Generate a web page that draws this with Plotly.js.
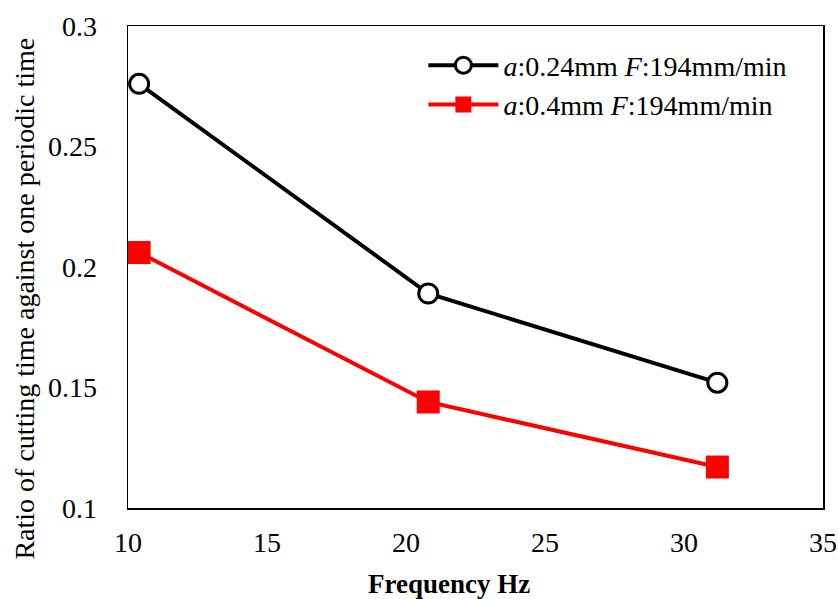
<!DOCTYPE html>
<html><head><meta charset="utf-8">
<script src="https://cdn.plot.ly/plotly-3.0.1.min.js"></script>
<style>body{margin:0;background:#fff}#c{width:838px;height:599px}</style>
</head><body><div id="c"></div>
<script>
const frequency = [10.4, 20.8, 31.2];
const ratioA024 = [0.276, 0.189, 0.152];
const ratioA04 = [0.206, 0.144, 0.117];
const seriesNames = ['<i>a</i>:0.24mm <i>F</i>:194mm/min', '<i>a</i>:0.4mm <i>F</i>:194mm/min'];
const yTicks = [0.1, 0.15, 0.2, 0.25, 0.3];
const yTickText = ['0.1', '0.15', '0.2', '0.25', '0.3'];
const xTicks = [10, 15, 20, 25, 30, 35];
const xTitle = '<b>Frequency Hz</b>';
const yTitle = 'Ratio of cutting time against one periodic time';

const font = 'Times New Roman, Liberation Serif, serif';
const traces = [
  {x: frequency, y: ratioA024, name: seriesNames[0], mode: 'lines+markers',
   line: {color: '#000', width: 4},
   marker: {symbol: 'circle', size: 19, color: '#fff', line: {color: '#000', width: 3}}},
  {x: frequency, y: ratioA04, name: seriesNames[1], mode: 'lines+markers',
   line: {color: '#ff0000', width: 4},
   marker: {symbol: 'square', size: 23, color: '#ff0000', line: {width: 0}}}
];
const layout = {
  width: 838, height: 599,
  margin: {l: 128, r: 15, t: 26, b: 91},
  paper_bgcolor: '#fff', plot_bgcolor: '#fff',
  font: {family: font, size: 28, color: '#000'},
  showlegend: true,
  legend: {x: 0.425, y: 0.97, xanchor: 'left', yanchor: 'top', bgcolor: 'rgba(0,0,0,0)',
           font: {family: font, size: 28, color: '#000'}, itemwidth: 70, tracegroupgap: 0},
  xaxis: {range: [10, 35], tickvals: xTicks, showgrid: false, zeroline: false,
          showline: true, linecolor: '#000', linewidth: 1.5, mirror: true, ticks: '',
          tickfont: {family: font, size: 28}, ticklabelstandoff: 9},
  yaxis: {range: [0.1, 0.3], tickvals: yTicks, ticktext: yTickText, showgrid: false, zeroline: false,
          showline: true, linecolor: '#000', linewidth: 1.5, mirror: true, ticks: '',
          tickfont: {family: font, size: 28}, ticklabelstandoff: 24},
  annotations: [
    {text: xTitle, xref: 'paper', yref: 'paper', x: 0.462, y: -0.158, xanchor: 'center', yanchor: 'middle',
     showarrow: false, font: {family: font, size: 27}},
    {text: yTitle, xref: 'paper', yref: 'paper', x: -0.1496, y: 0.4346, xanchor: 'center', yanchor: 'middle',
     textangle: -90, showarrow: false, font: {family: font, size: 28}}
  ]
};
Plotly.newPlot('c', traces, layout, {displayModeBar: false, staticPlot: true});
</script></body></html>
